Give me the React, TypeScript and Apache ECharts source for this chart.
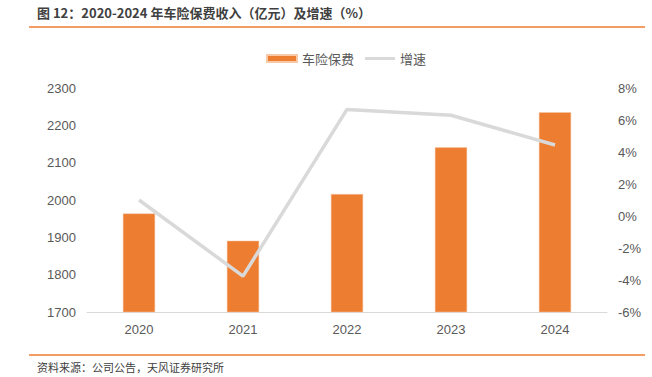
import React, { useEffect, useRef } from "react";
import * as echarts from "echarts";

const categories = ["2020", "2021", "2022", "2023", "2024"];
const premiumValues = [1964, 1891, 2016, 2141, 2235];
const growthValues = [1.0, -3.76, 6.66, 6.3, 4.44];
const leftTicks = { min: 1700, max: 2300, interval: 100 };
const rightTicks = { min: -6, max: 8, interval: 2 };
const titleText = "图 12：2020-2024 年车险保费收入（亿元）及增速（%）";
const sourceText = "资料来源：公司公告，天风证券研究所";

const FONT = "'Liberation Sans', 'Noto Sans CJK SC', sans-serif";
const CJK = "'Noto Sans CJK SC', 'Liberation Sans', sans-serif";

export default function App() {
  const ref = useRef<HTMLDivElement>(null);
  useEffect(() => {
    if (!ref.current) return;
    const chart = echarts.init(ref.current, null, { renderer: "svg" });
    chart.setOption({
      animation: false,
      backgroundColor: "#ffffff",
      textStyle: { fontFamily: FONT },
      legend: {
        top: 47,
        left: 261,
        itemWidth: 30,
        itemHeight: 7,
        itemGap: 11,
        textStyle: { color: "#595959", fontSize: 13, fontFamily: CJK },
        data: [
          { name: "车险保费", icon: "rect" },
          {
            name: "增速",
            icon: "path://M0,0L0,0M0,2L30,2L30,5L0,5ZM30,7L30,7",
            itemStyle: { color: "#D9D9D9", borderWidth: 0 },
          },
        ],
      },
      grid: { left: 87, right: 45, top: 88, bottom: 65, containLabel: false },
      xAxis: {
        type: "category",
        data: categories,
        axisLine: { onZero: false, lineStyle: { color: "#D9D9D9", width: 1 } },
        axisTick: { show: false },
        axisLabel: { color: "#595959", fontSize: 13, margin: 11 },
      },
      yAxis: [
        {
          type: "value",
          min: leftTicks.min,
          max: leftTicks.max,
          interval: leftTicks.interval,
          splitLine: { show: false },
          axisLine: { show: false },
          axisTick: { show: false },
          axisLabel: { color: "#595959", fontSize: 13, margin: 11, formatter: (v: number) => String(v) },
        },
        {
          type: "value",
          min: rightTicks.min,
          max: rightTicks.max,
          interval: rightTicks.interval,
          splitLine: { show: false },
          axisLine: { show: false },
          axisTick: { show: false },
          axisLabel: { color: "#595959", fontSize: 13, margin: 11, formatter: (v: number) => v + "%" },
        },
      ],
      series: [
        {
          name: "车险保费",
          type: "bar",
          data: premiumValues,
          barWidth: "31%",
          itemStyle: { color: "#ED7D31", borderColor: "#F8C9A8", borderWidth: 0.5 },
        },
        {
          name: "增速",
          type: "line",
          yAxisIndex: 1,
          data: growthValues,
          showSymbol: false,
          symbol: "none",
          lineStyle: { color: "#D9D9D9", width: 3.5 },
          itemStyle: { color: "#D9D9D9" },
        },
      ],
      graphic: [
        {
          type: "text",
          left: 37,
          top: 6,
          style: { text: titleText, fill: "#404040", font: `bold 13px ${CJK}` },
        },
        {
          type: "line",
          shape: { x1: 29, y1: 27, x2: 645, y2: 27 },
          style: { stroke: "#ED7D31", lineWidth: 1.5 },
        },
        {
          type: "line",
          shape: { x1: 29, y1: 355, x2: 645, y2: 355 },
          style: { stroke: "#ED7D31", lineWidth: 1.5 },
        },
        {
          type: "text",
          left: 37,
          top: 361,
          style: { text: sourceText, fill: "#404040", font: `11px ${CJK}` },
        },
      ],
    });
    return () => chart.dispose();
  }, []);
  return <div ref={ref} style={{ width: 652, height: 377, position: "absolute", left: 0, top: 0 }} />;
}
